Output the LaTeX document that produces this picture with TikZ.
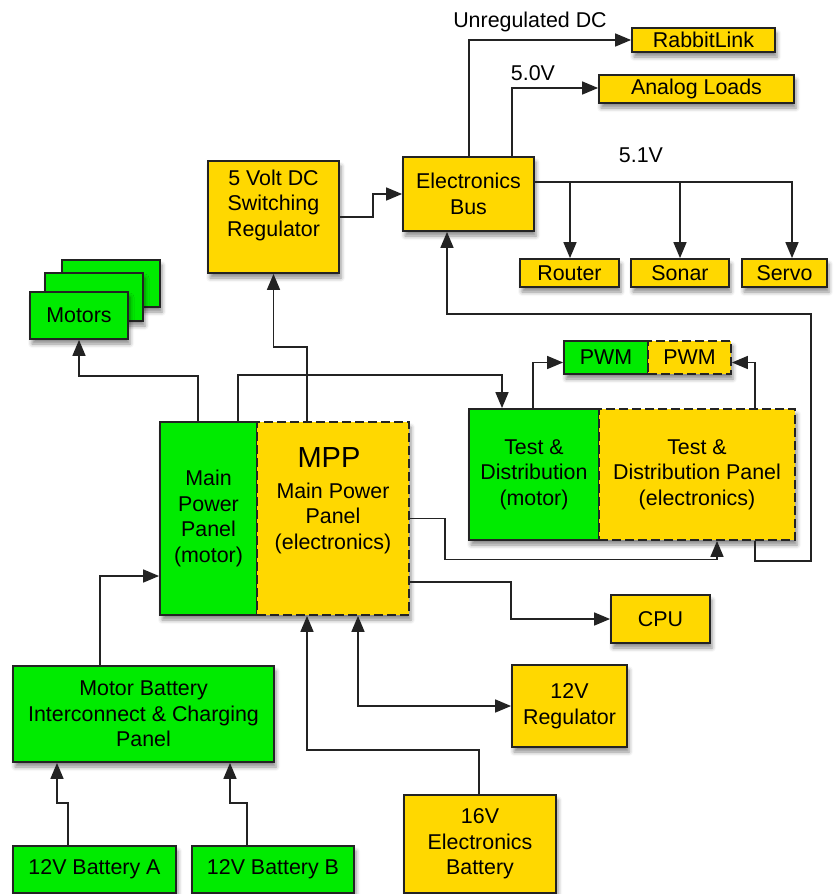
\documentclass[tikz,border=0pt]{standalone}
\usepackage{fontspec}
\setmainfont{Liberation Sans}
\usetikzlibrary{arrows.meta,shadows.blur}
\definecolor{grn}{RGB}{0,235,0}
\definecolor{ylw}{RGB}{255,216,0}
\definecolor{edge}{RGB}{35,35,35}
\tikzset{
  boxfont/.style={font=\fontsize{21.4}{25.5}\selectfont},
  shad/.style={blur shadow={shadow xshift=2pt, shadow yshift=-5pt, shadow blur radius=4pt, shadow opacity=45}},
  plain/.style={draw=edge, line width=1.8pt, inner sep=0pt, align=center, boxfont},
  gbox/.style={plain, fill=grn, shad},
  ybox/.style={plain, fill=ylw, shad},
  gpart/.style={plain, fill=grn},
  ypart/.style={plain, fill=ylw, dash pattern=on 9pt off 4pt},
  backshadow/.style={draw=none, fill=white, inner sep=0pt, shad},
  wire/.style={draw=edge, line width=1.6pt, -{Triangle[length=16pt,width=13pt]}},
  biwire/.style={draw=edge, line width=1.6pt, {Triangle[length=16pt,width=13pt]}-{Triangle[length=16pt,width=13pt]}},
  lbl/.style={inner sep=0pt, align=center, boxfont}
}
\begin{document}
\begin{tikzpicture}[x=1pt,y=-1pt]
\useasboundingbox (0,0) rectangle (833,894);

% top loads
\node[ybox, minimum width=143pt, minimum height=24pt] (rabbit) at (703.5,40) {RabbitLink};
\node[ybox, minimum width=195pt, minimum height=28pt] (analog) at (696.5,89) {Analog Loads};
\node[ybox, minimum width=131pt, minimum height=74pt] (bus) at (468.5,194) {Electronics\\Bus};
\node[ybox, minimum width=131pt, minimum height=112pt] (sreg) at (273.5,217) {};
\node[lbl] (sregtext) at (273.5,205) {5 Volt DC\\Switching\\Regulator};
\node[ybox, minimum width=99pt, minimum height=28pt] (router) at (569.5,273) {Router};
\node[ybox, minimum width=98pt, minimum height=28pt] (sonar) at (680,273) {Sonar};
\node[ybox, minimum width=85pt, minimum height=28pt] (servo) at (784.5,273) {Servo};

\node[lbl] (unreg) at (530,22) {Unregulated DC};
\node[lbl] (v50) at (533,73) {5.0V};
\node[lbl] (v51) at (641,155) {5.1V};

% motors stack
\node[gbox, minimum width=98pt, minimum height=47pt] (motors3) at (111,283.5) {};
\node[gbox, minimum width=98pt, minimum height=48pt] (motors2) at (94,297) {};
\node[gbox, minimum width=98pt, minimum height=47pt] (motors1) at (79,315.5) {Motors};

% main power panel
\node[backshadow, minimum width=249pt, minimum height=193pt] (mppback) at (284.5,518.5) {};
\node[gpart, minimum width=97pt, minimum height=193pt] (mppm) at (208.5,518.5) {Main\\Power\\Panel\\(motor)};
\node[ypart, minimum width=152pt, minimum height=193pt] (mppe) at (333,518.5) {};
\node[lbl, font=\fontsize{29}{34}\selectfont] (mpptitle) at (329,458) {MPP};
\node[lbl] (mpptext) at (333,518) {Main Power\\Panel\\(electronics)};

% test & distribution panel
\node[backshadow, minimum width=326pt, minimum height=131pt] (tdpback) at (632,474.5) {};
\node[gpart, minimum width=130pt, minimum height=131pt] (tdpm) at (534,474.5) {Test \&\\Distribution\\(motor)};
\node[ypart, minimum width=196pt, minimum height=131pt] (tdpe) at (697,474.5) {Test \&\\Distribution Panel\\(electronics)};

% PWM
\node[backshadow, minimum width=167pt, minimum height=33pt] (pwmback) at (647.5,357.5) {};
\node[gpart, minimum width=84pt, minimum height=33pt] (pwmm) at (606,357.5) {PWM};
\node[ypart, minimum width=83pt, minimum height=33pt] (pwme) at (689.5,357.5) {PWM};

% lower boxes
\node[ybox, minimum width=99pt, minimum height=48pt] (cpu) at (660.5,619) {CPU};
\node[ybox, minimum width=115pt, minimum height=82pt] (reg12) at (569.5,706) {12V\\Regulator};
\node[ybox, minimum width=152pt, minimum height=98pt] (bat16) at (480,844) {16V\\Electronics\\Battery};
\node[gbox, minimum width=261pt, minimum height=96pt] (mbic) at (143.5,714) {Motor Battery\\Interconnect \& Charging\\Panel};
\node[gbox, minimum width=163pt, minimum height=47pt] (batA) at (94.5,869.5) {12V Battery A};
\node[gbox, minimum width=162pt, minimum height=47pt] (batB) at (273,869.5) {12V Battery B};

% connectors
\draw[wire] ([xshift=0.5pt]bus.north) |- (rabbit.west);
\draw[wire] ([xshift=43.5pt]bus.north) |- ([yshift=1pt]analog.west);
\draw[wire] ([yshift=12pt]bus.east) -| ([xshift=0.5pt]router.north);
\draw[wire] ([yshift=12pt]bus.east) -| (sonar.north);
\draw[wire] ([yshift=12pt]bus.east) -| ([xshift=7.5pt]servo.north);
\draw[wire] (sreg.east) -- ++(33,0) |- (bus.west);
\draw[wire] ([xshift=-26pt]mppe.north) -- ++(0,-74) -| (sreg.south);
\draw[wire] ([xshift=-10.5pt]mppm.north) -- ++(0,-45) -| (motors1.south);
\draw[wire] ([xshift=29.5pt]mppm.north) -- ++(0,-46) -| ([xshift=-32pt]tdpm.north);
\draw[wire] ([xshift=-1pt]tdpm.north) |- ([yshift=-5pt]pwmm.west);
\draw[wire] ([xshift=58pt]tdpe.north) |- ([yshift=-5pt]pwme.east);
\draw[wire] (mppe.east) -- ++(35,0) -- ++(0,41) -| ([xshift=20pt]tdpe.south);
\draw[wire] ([xshift=58pt]tdpe.south) -- ++(0,20) -- ++(56,0) -- ++(0,-247) -| ([xshift=-21.5pt]bus.south);
\draw[wire] ([yshift=-63.5pt]mppe.east) -- ++(101,0) |- (cpu.west);
\draw[biwire] ([xshift=25pt]mppe.south) |- (reg12.west);
\draw[wire] ([xshift=-1pt]bat16.north) -- ++(0,-44) -| ([xshift=-26pt]mppe.south);
\draw[wire] ([xshift=-43.5pt]mbic.north) |- ([yshift=-57.5pt]mppm.west);
\draw[wire] ([xshift=-26.5pt]batA.north) -- ++(0,-42) -| ([xshift=-86.5pt]mbic.south);
\draw[wire] ([xshift=-26pt]batB.north) -- ++(0,-42) -| ([xshift=86.5pt]mbic.south);
\end{tikzpicture}
\end{document}
